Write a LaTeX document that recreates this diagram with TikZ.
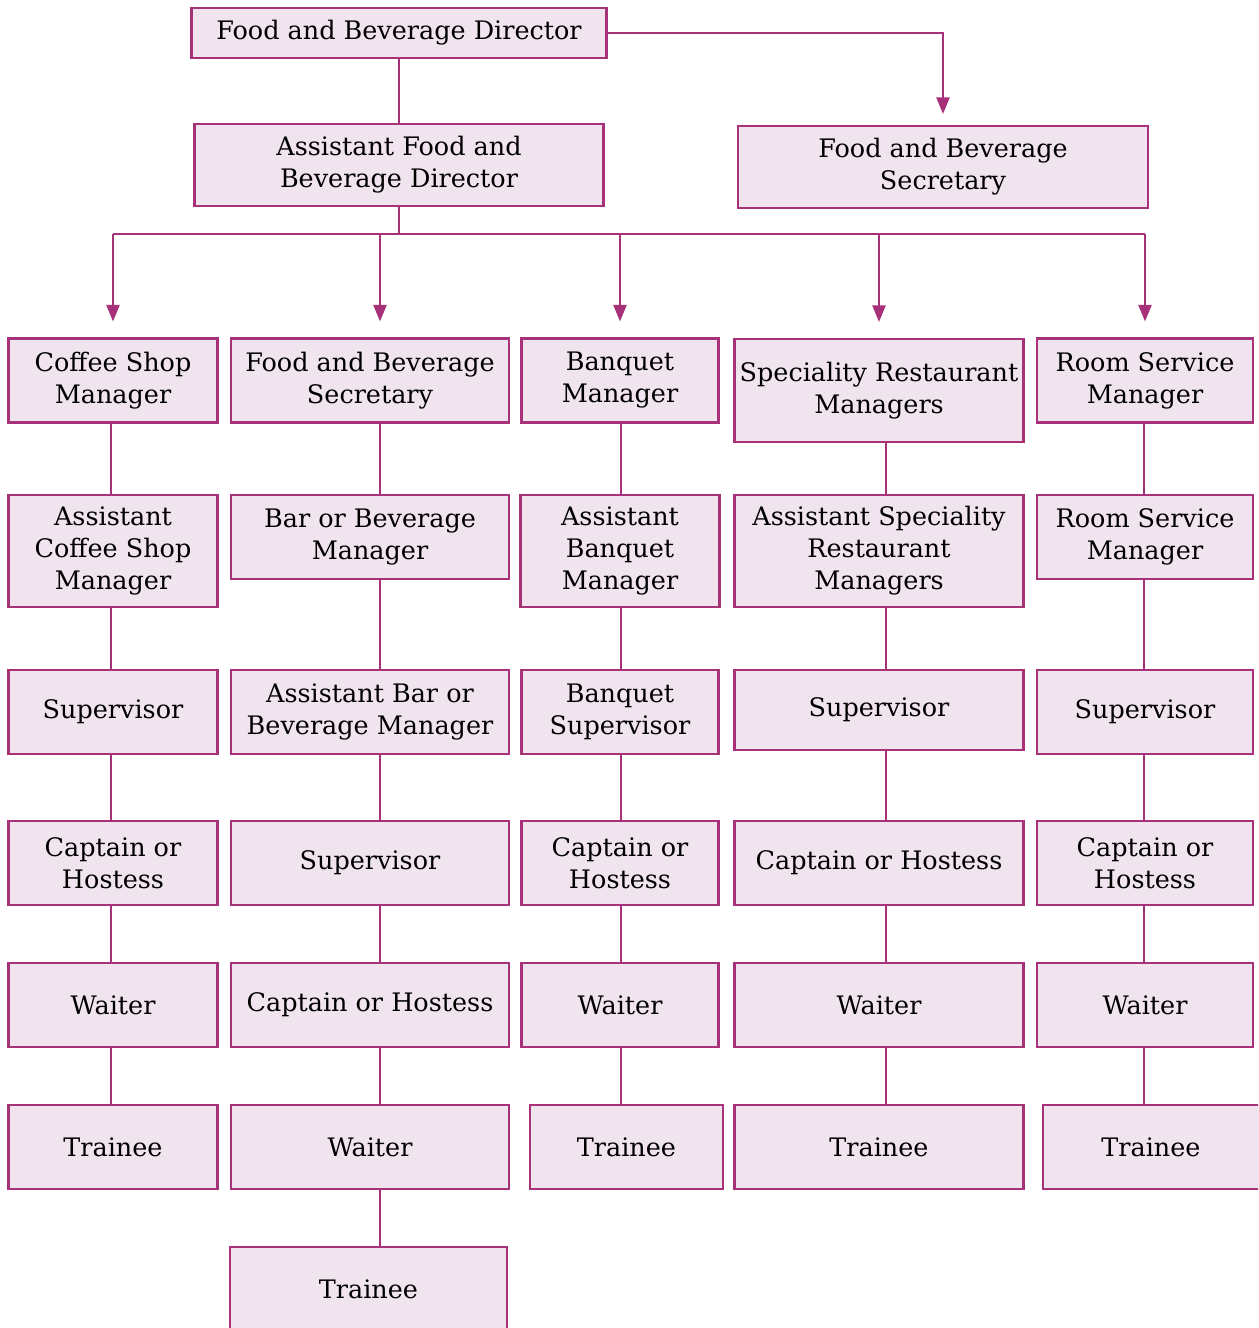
\documentclass[tikz,border=0pt]{standalone}
\usepackage{fontspec}
\setmainfont{DejaVu Serif}
\usepackage{xcolor}
\usetikzlibrary{positioning,arrows.meta}
\definecolor{fbline}{HTML}{A8327A}
\definecolor{fbfill}{HTML}{F0E4EE}

\begin{document}
\begin{tikzpicture}[x=0.02cm,y=-0.02cm,
  post/.style={rectangle,draw=fbline,line width=1.2pt,fill=fbfill,align=center,inner sep=0pt,minimum height=1.68cm,font=\fontsize{14.5}{18.2}\selectfont},
  tall/.style={minimum height=2.24cm},
  colA/.style={post,minimum width=4.18cm},
  colB/.style={post,minimum width=5.56cm},
  colC/.style={post,minimum width=3.94cm},
  colD/.style={post,minimum width=5.78cm},
  colE/.style={post,minimum width=4.32cm},
  link/.style={draw=fbline,line width=1.2pt},
  arr/.style={link,-{Triangle[width=7.5pt,length=9.5pt]}},
]
\useasboundingbox (0,0) rectangle (1258,1328);
\clip (0,0) rectangle (1258,1328);

% top of the chart
\node[post,minimum width=8.3cm,minimum height=1cm] (dir) at (399,33) {Food and Beverage Director};
\node[post,minimum width=8.18cm,minimum height=1.64cm] (adir) at (399,165) {Assistant Food and\\Beverage Director};
\node[post,minimum width=8.2cm,minimum height=1.64cm] (sec) at (943,167) {Food and Beverage\\Secretary};

% coffee shop
\node[colA] (A1) at (113,380.5) {Coffee Shop\\Manager};
\node[colA,tall] (A2) at (113,551) {Assistant\\Coffee Shop\\Manager};
\node[colA] (A3) at (113,712) {Supervisor};
\node[colA] (A4) at (113,863) {Captain or\\Hostess};
\node[colA] (A5) at (113,1005) {Waiter};
\node[colA] (A6) at (113,1147) {Trainee};

% bar
\node[colB] (B1) at (370,380.5) {Food and Beverage\\Secretary};
\node[colB] (B2) at (370,537) {Bar or Beverage\\Manager};
\node[colB] (B3) at (370,712) {Assistant Bar or\\Beverage Manager};
\node[colB] (B4) at (370,863) {Supervisor};
\node[colB] (B5) at (370,1005) {Captain or Hostess};
\node[colB] (B6) at (370,1147) {Waiter};
\node[colB,minimum width=5.54cm] (B7) at (368.5,1289) {Trainee};

% banquet
\node[colC] (C1) at (620,380.5) {Banquet\\Manager};
\node[colC,tall,minimum width=3.98cm] (C2) at (620,551) {Assistant\\Banquet\\Manager};
\node[colC] (C3) at (620,712) {Banquet\\Supervisor};
\node[colC] (C4) at (620,863) {Captain or\\Hostess};
\node[colC] (C5) at (620,1005) {Waiter};
\node[colC,minimum width=3.86cm] (C6) at (626.5,1147) {Trainee};

% speciality restaurant
\node[colD,minimum height=2.06cm] (D1) at (879,390.5) {Speciality Restaurant\\Managers};
\node[colD,tall] (D2) at (879,551) {Assistant Speciality\\Restaurant\\Managers};
\node[colD,minimum height=1.6cm] (D3) at (879,710) {Supervisor};
\node[colD] (D4) at (879,863) {Captain or Hostess};
\node[colD] (D5) at (879,1005) {Waiter};
\node[colD] (D6) at (879,1147) {Trainee};

% room service
\node[colE] (E1) at (1145,380.5) {Room Service\\Manager};
\node[colE] (E2) at (1145,537) {Room Service\\Manager};
\node[colE] (E3) at (1145,712) {Supervisor};
\node[colE] (E4) at (1145,863) {Captain or\\Hostess};
\node[colE] (E5) at (1145,1005) {Waiter};
\node[colE] (E6) at (1151,1147) {Trainee};

\coordinate (xA) at (111,0);
\coordinate (xB) at (380,0);
\coordinate (xC) at (621,0);
\coordinate (xD) at (886,0);
\coordinate (xE) at (1144,0);
\coordinate (bus) at (399,234);

% links
\draw[arr,shorten >=0.22cm] (dir.east) -| (sec.north);
\draw[link] (dir) -- (adir);
\draw[link] (adir.south) -- (bus);
\draw[link] (bus -| A1) -- (bus -| E1);
\foreach \n in {A1,C1,D1,E1}
  \draw[arr,shorten >=0.32cm] (bus -| \n) -- (\n.north);
\draw[arr,shorten >=0.32cm] (bus -| xB) -- (B1.north -| xB);

\foreach \c in {A,B,C,D,E}
  \foreach \i/\j in {1/2,2/3,3/4,4/5,5/6}
    \draw[link] (\c\i.south -| x\c) -- (\c\j.north -| x\c);
\draw[link] (B6.south -| xB) -- (B7.north -| xB);

\end{tikzpicture}
\end{document}
